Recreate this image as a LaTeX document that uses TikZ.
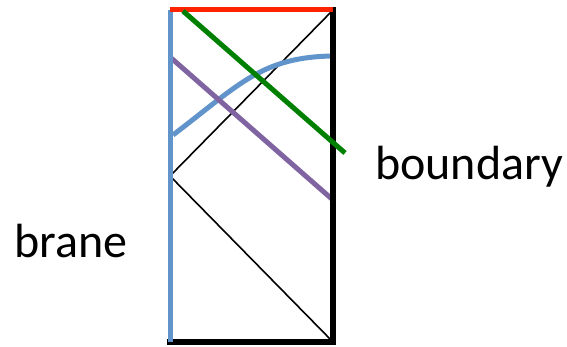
\documentclass[tikz,border=0pt]{standalone}
\usepackage{fontspec}
\setmainfont{Carlito}
\usetikzlibrary{calc}
\definecolor{braneblue}{RGB}{98,148,204}
\definecolor{slicepurple}{RGB}{128,100,162}
\definecolor{slicegreen}{RGB}{0,128,0}
\definecolor{capred}{RGB}{255,35,0}
\tikzset{
  wall/.style={line width=5.5pt, black, line cap=rect},
  ray/.style={line width=1.6pt, black},
  slice/.style={line width=5pt},
  caption/.style={font=\fontsize{48}{58}\selectfont, inner sep=0pt},
}
\begin{document}
\begin{tikzpicture}[x=1pt,y=-1pt]
\useasboundingbox (0,0) rectangle (567,347);
% corners of the strip
\coordinate (tl) at (170,10);
\coordinate (tr) at (333,10);
\coordinate (bl) at (170,342);
\coordinate (br) at (333,342);
\coordinate (bounce) at (170,176);

% light rays
\draw[ray] (br) -- (bounce) -- (tr);

% slices
\coordinate (bs) at (173,135);
\coordinate (be) at (333,56);
\draw[slice, braneblue] (bs) .. controls (240,84) and (262,57) .. (be);
\coordinate (ps) at (170,57);
\coordinate (pe) at (333,200);
\draw[slice, slicepurple] (ps) -- (pe);

% walls
\draw[wall] (tr) -- (br) -- (bl);
\draw[slice, braneblue] (bl) -- (tl);
\draw[slice, capred] (tl) -- (tr);

\coordinate (gs) at (183,11);
\coordinate (ge) at (345,153);
\draw[slice, slicegreen] (gs) -- (ge);

% labels
\node[caption, anchor=base west] (boundary) at (375,180) {boundary};
\node[caption, anchor=base east] (brane) at (128,258) {brane};
\end{tikzpicture}
\end{document}
